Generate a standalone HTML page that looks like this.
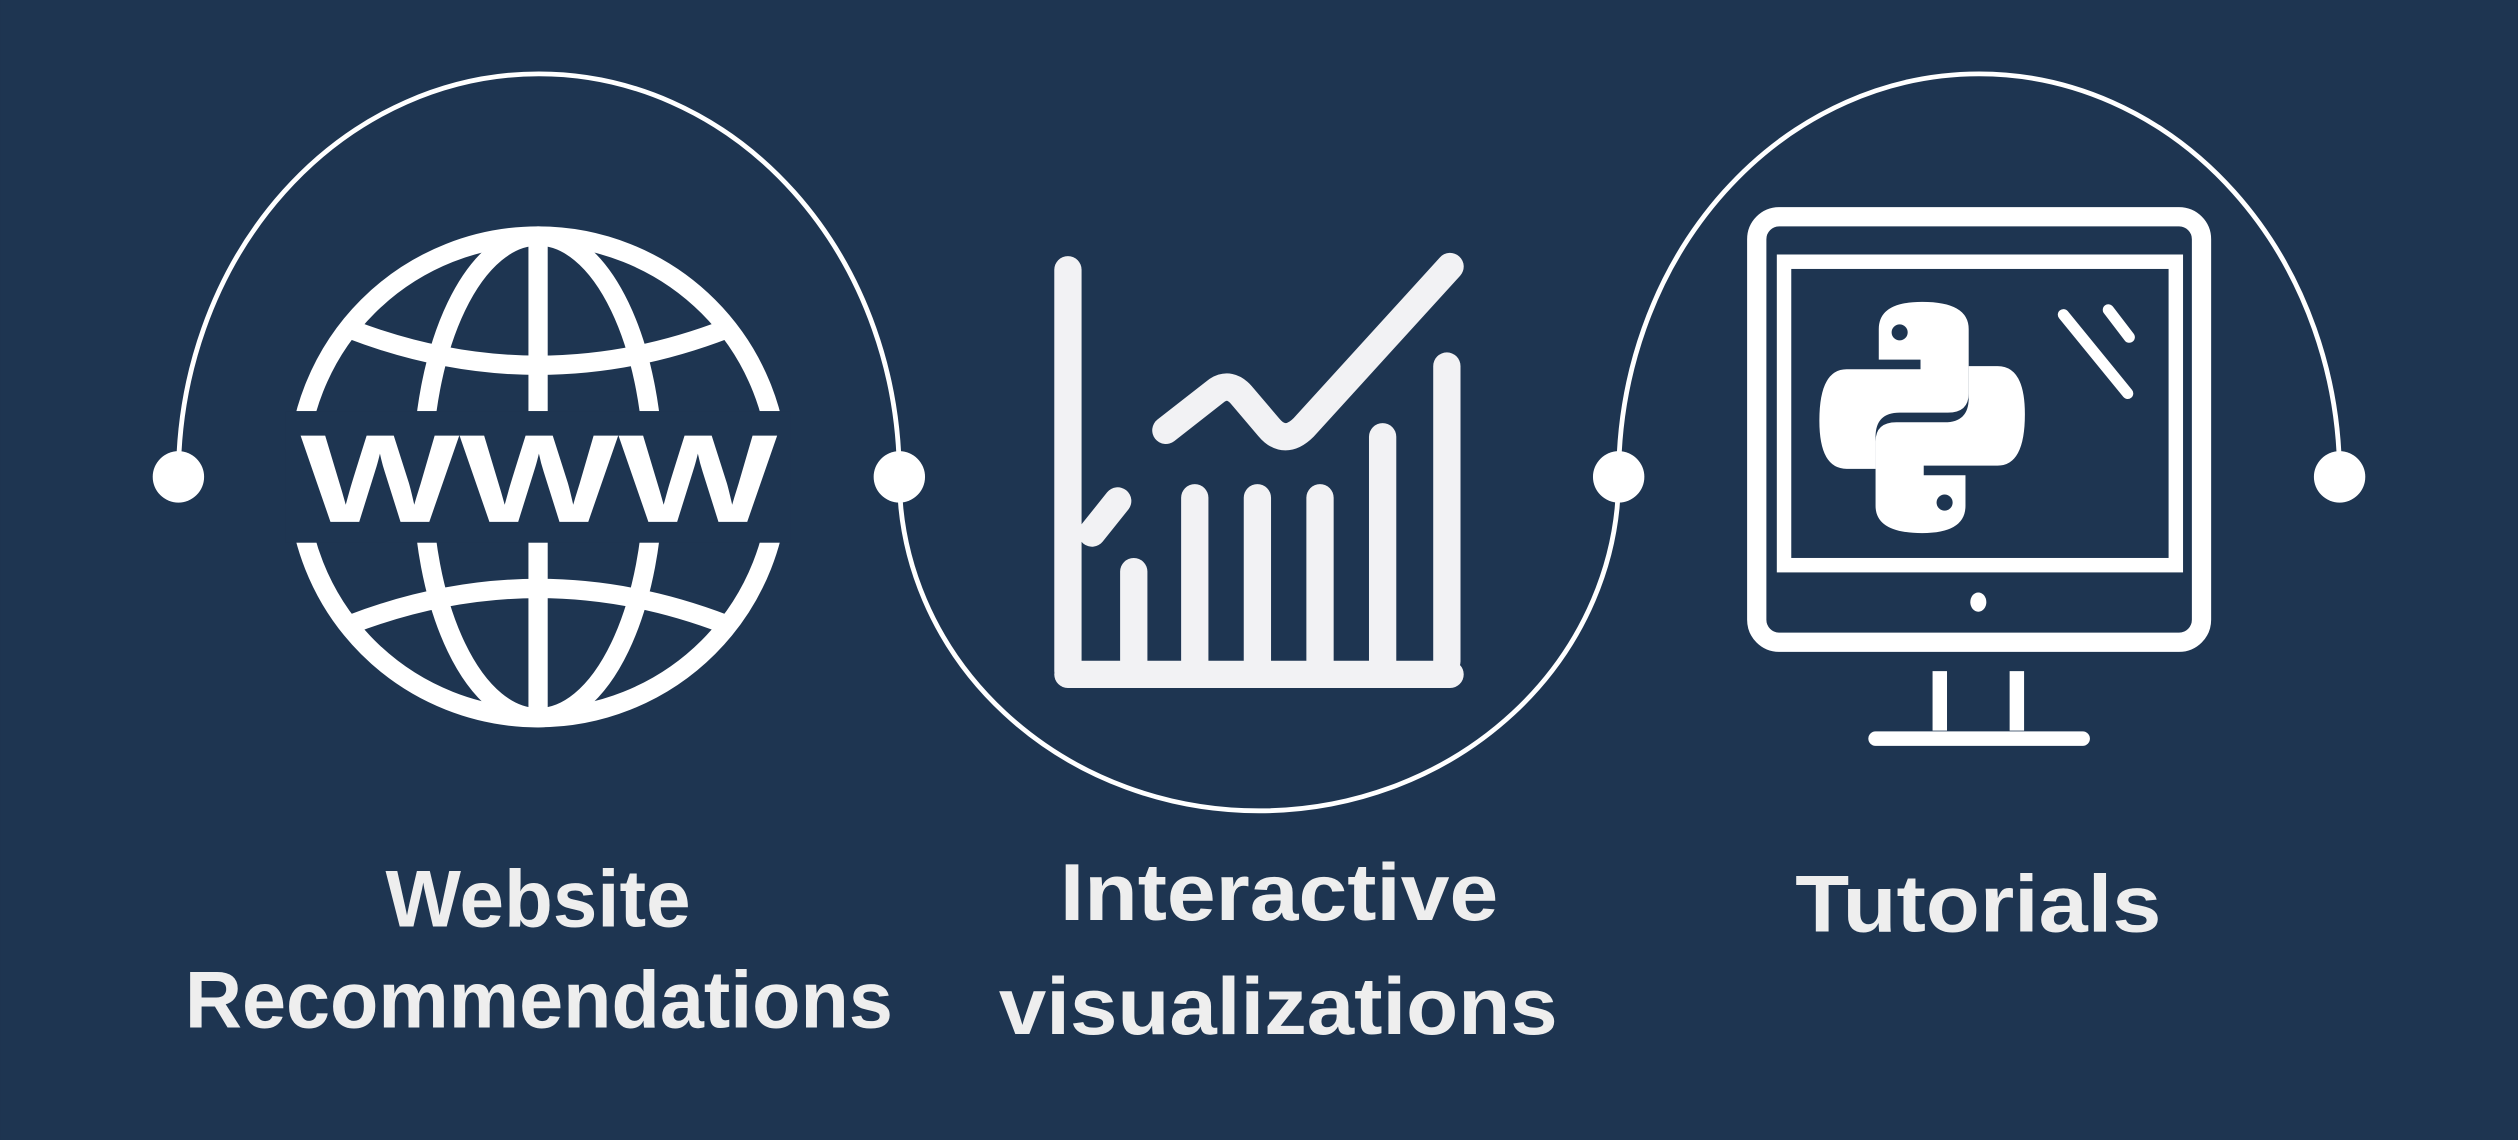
<!DOCTYPE html>
<html><head><meta charset="utf-8"><style>
html,body{margin:0;padding:0;background:#1e3551;}
svg{display:block}
</style></head><body>
<svg width="2518" height="1140" viewBox="0 0 1568 710" xmlns="http://www.w3.org/2000/svg">
<rect width="1568" height="710" fill="#1e3551"/>
<g fill="none" stroke="#fff" stroke-width="3">
<path d="M111 297 A224.5 251 0 0 1 560 297"/>
<path d="M560 297 A224 208 0 0 0 1008 297"/>
<path d="M1008 297 A224.5 251 0 0 1 1457 297"/>
</g>
<g fill="#fff">
<circle cx="111" cy="297" r="16"/><circle cx="560" cy="297" r="16"/>
<circle cx="1008" cy="297" r="16"/><circle cx="1457" cy="297" r="16"/>
</g>
<!-- globe -->
<g fill="none" stroke="#fff" stroke-width="12">
<circle cx="335" cy="297" r="150"/>
<ellipse cx="335" cy="297" rx="72" ry="150"/>
<line x1="335" y1="147" x2="335" y2="447"/>
<path d="M218 205 Q335 250 452 205"/>
<path d="M218 389 Q335 344 452 389"/>
</g>
<rect x="178" y="256" width="314" height="82" fill="#1e3551"/>
<text x="187" y="325" font-family="Liberation Sans, sans-serif" font-weight="bold" font-size="78" fill="#fff" textLength="297" lengthAdjust="spacingAndGlyphs">WWW</text>
<!-- chart -->
<g stroke="#f2f2f4" stroke-linecap="round" fill="none" stroke-width="17">
<line x1="665" y1="168" x2="665" y2="418"/>
<line x1="665" y1="420" x2="903" y2="420"/>
<line x1="706" y1="356" x2="706" y2="412"/>
<line x1="744" y1="310" x2="744" y2="412"/>
<line x1="783" y1="310" x2="783" y2="412"/>
<line x1="822" y1="310" x2="822" y2="412"/>
<line x1="861" y1="272" x2="861" y2="412"/>
<line x1="901" y1="228" x2="901" y2="412"/>
<line x1="680" y1="332" x2="696" y2="312"/>
<path d="M726 268 L758 243 Q766 238 773 246 L790 266 Q800 278 812 266 L903 166"/>
</g>
<!-- monitor -->
<g fill="none" stroke="#fff">
<rect x="1094" y="135" width="277" height="265" rx="14" stroke-width="12"/>
<rect x="1111" y="163" width="244" height="189" stroke-width="9"/>
<line x1="1208" y1="418" x2="1208" y2="455" stroke-width="9"/>
<line x1="1256" y1="418" x2="1256" y2="455" stroke-width="9"/>
<line x1="1168" y1="460" x2="1297" y2="460" stroke-width="9" stroke-linecap="round"/>
<line x1="1285" y1="196" x2="1325" y2="245" stroke-width="7" stroke-linecap="round"/>
<line x1="1313" y1="193" x2="1326" y2="210" stroke-width="7" stroke-linecap="round"/>
</g>
<ellipse cx="1232" cy="375" rx="5" ry="6" fill="#fff"/>
<!-- python logo -->
<g fill="#fff">
<path d="M1170 205 Q1170 188 1197 188 Q1226 188 1226 205 L1226 245 Q1226 257 1213 257 L1183 257 Q1168 257 1168 272 L1168 292 L1150 292 Q1133 292 1133 262 Q1133 230 1150 230 L1196 230 L1196 224 L1170 224 Z"/>
<path d="M1224 315 Q1224 332 1197 332 Q1168 332 1168 315 L1168 275 Q1168 263 1181 263 L1211 263 Q1226 263 1226 248 L1226 228 L1244 228 Q1261 228 1261 258 Q1261 290 1244 290 L1198 290 L1198 296 L1224 296 Z"/>
</g>
<circle cx="1183" cy="207" r="5" fill="#1e3551"/>
<circle cx="1211" cy="313" r="5" fill="#1e3551"/>
<!-- labels -->
<g font-family="Liberation Sans, sans-serif" font-weight="bold" fill="#eeeeee" font-size="50">
<text x="240" y="577" textLength="190" lengthAdjust="spacingAndGlyphs">Website</text>
<text x="115" y="640" textLength="441" lengthAdjust="spacingAndGlyphs">Recommendations</text>
<text x="660" y="573" textLength="273" lengthAdjust="spacingAndGlyphs">Interactive</text>
<text x="622" y="644" textLength="348" lengthAdjust="spacingAndGlyphs">visualizations</text>
<text x="1118" y="580" textLength="228" lengthAdjust="spacingAndGlyphs">Tutorials</text>
</g>
</svg>
</body></html>
